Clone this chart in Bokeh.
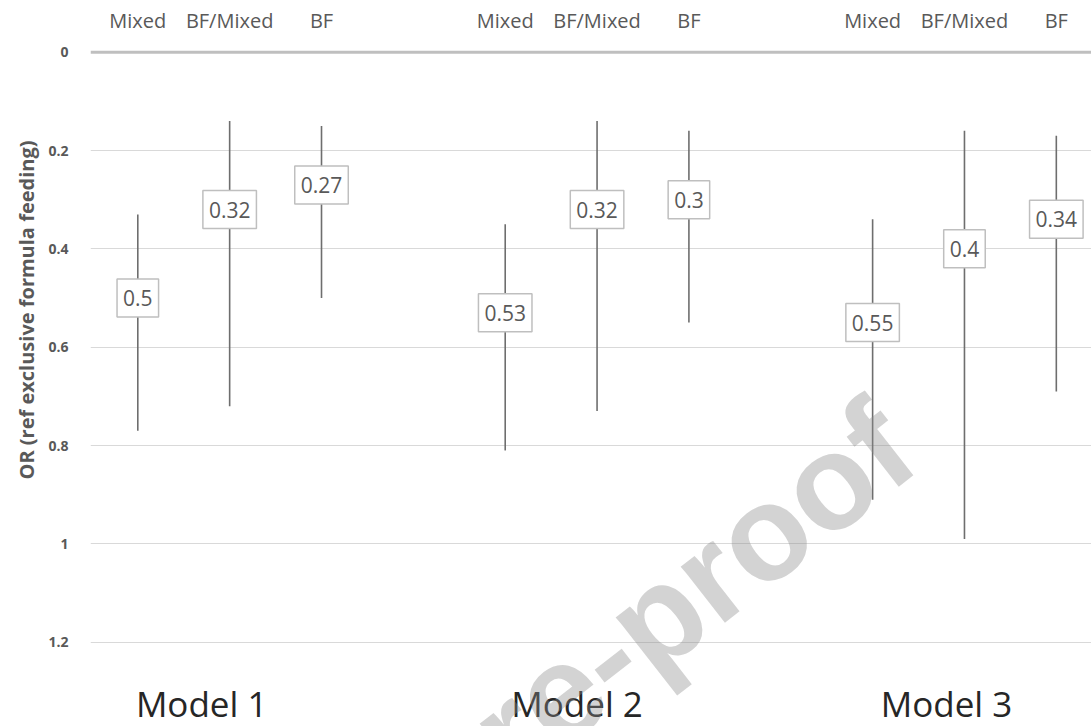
import math
from bokeh.plotting import figure
from bokeh.models import Range1d, FixedTicker, Span, ColumnDataSource, Label, Title
from bokeh.core.properties import value
from bokeh.embed import file_html
from bokeh.resources import INLINE

# ---- data ----
models = ["Model 1", "Model 2", "Model 3"]
groups = ["Mixed", "BF/Mixed", "BF"]
or_m1 = [0.50, 0.32, 0.27]
lo_m1 = [0.33, 0.14, 0.15]
hi_m1 = [0.77, 0.72, 0.50]
or_m2 = [0.53, 0.32, 0.30]
lo_m2 = [0.35, 0.14, 0.16]
hi_m2 = [0.81, 0.73, 0.55]
or_m3 = [0.55, 0.40, 0.34]
lo_m3 = [0.34, 0.16, 0.17]
hi_m3 = [0.91, 0.99, 0.69]
y_ticks = [0, 0.2, 0.4, 0.6, 0.8, 1, 1.2]
y_tick_labels = ["0", "0.2", "0.4", "0.6", "0.8", "1", "1.2"]
y_title = "OR  (ref exclusive formula feeding)"
watermark = "Journal Pre-proof"

ors = [or_m1, or_m2, or_m3]
los = [lo_m1, lo_m2, lo_m3]
his = [hi_m1, hi_m2, hi_m3]

xs, ys, lo, hi, lab, cat = [], [], [], [], [], []
for m in range(3):
    for k in range(3):
        xs.append(4 * m + k + 1)
        ys.append(ors[m][k])
        lo.append(los[m][k])
        hi.append(his[m][k])
        lab.append(f"{ors[m][k]:g}")
        cat.append(groups[k])

src = ColumnDataSource(dict(x=xs, y=ys, lo=lo, hi=hi, lab=lab, cat=cat))

FONT = "Open Sans"
GRAY = "#595959"

p = figure(width=1091, height=726, output_backend="svg", toolbar_location=None,
           x_axis_type=None, x_range=Range1d(0.485, 11.383),
           y_range=Range1d(1.3714, -0.1051), min_border=0, min_border_left=90,
           outline_line_color=None)

# y axis
ya = p.yaxis[0]
ya.ticker = FixedTicker(ticks=y_ticks)
ya.major_label_overrides = {t: l for t, l in zip(y_ticks, y_tick_labels)}
ya.axis_line_color = None
ya.major_tick_line_color = None
ya.minor_tick_line_color = None
ya.major_label_text_font = FONT
ya.major_label_text_font_style = "bold"
ya.major_label_text_font_size = "14px"
ya.major_label_text_color = GRAY
ya.major_label_standoff = 16

# y axis title (left-side title, shifted up from the bottom edge)
p.add_layout(Title(text=y_title, align="left", offset=247, standoff=12,
                   text_font=FONT, text_font_size="20px", text_font_style="bold",
                   text_color=GRAY), "left")

p.ygrid.ticker = FixedTicker(ticks=y_ticks[1:])
p.ygrid.grid_line_color = "#D9D9D9"
p.ygrid.grid_line_width = 1.2

p.add_layout(Span(location=0, dimension="width", line_color="#BFBFBF", line_width=3))

# error bars
p.segment(x0="x", y0="lo", x1="x", y1="hi", source=src, line_color="#6E6E6E", line_width=1.6)

# value labels in boxes
p.text(x="x", y="y", text="lab", source=src, text_align="center", text_baseline="middle",
       text_font=value(FONT), text_font_size="21px", text_color=GRAY,
       background_fill_color="white", border_line_color="#BFBFBF", border_line_width=1.5,
       padding=(6, 11))

# category labels on top
p.text(x="x", y=-0.064, text="cat", source=src, text_align="center", text_baseline="middle",
       text_font=value(FONT), text_font_size="20px", text_color=GRAY)

# model labels
msrc = ColumnDataSource(dict(x=[4 * m + 2 for m in range(3)], t=models, dx=[-28, -20, -18]))
p.text(x="x", y=1.324, text="t", source=msrc, text_align="center", text_baseline="middle",
       x_offset="dx", text_font=value(FONT), text_font_size="35px", text_color="#262626")

# watermark
p.add_layout(Label(x=9.25, y=0.769, text=watermark, angle=math.radians(38), text_align="right",
                   text_baseline="alphabetic", text_font="Liberation Sans", text_font_size="135px",
                   text_font_style="bold", text_color="#8C8C8C", text_alpha=0.38))

open("out.html", "w").write(file_html(p, INLINE))
